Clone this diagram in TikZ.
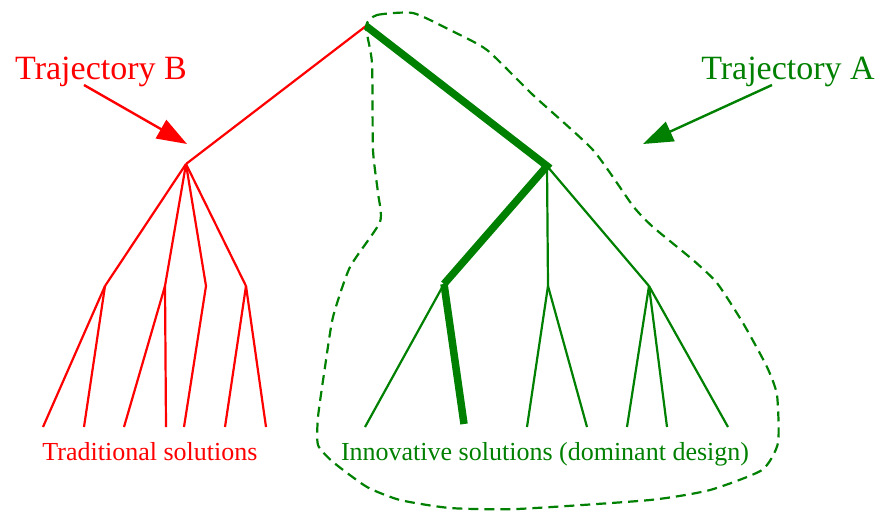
\documentclass[tikz,border=0pt]{standalone}
\usepackage{fontspec}
\setmainfont{Liberation Serif}
\usetikzlibrary{arrows.meta}

\definecolor{darkgreen}{RGB}{0,128,0}

\tikzstyle{redbranch}=[draw=red,line width=2.2pt]
\tikzstyle{greenbranch}=[draw=darkgreen,line width=2.2pt]
\tikzstyle{mainbranch}=[draw=darkgreen,line width=7.5pt]
\tikzstyle{pointer}=[line width=2.4pt,-{Triangle[length=30pt,width=21pt]}]
\tikzstyle{title}=[inner sep=0pt,anchor=base,font=\fontsize{34}{40}\selectfont]
\tikzstyle{caption}=[inner sep=0pt,anchor=base,font=\fontsize{26}{30}\selectfont]

\begin{document}
\begin{tikzpicture}[x=1pt,y=-1pt]

   \useasboundingbox (0,0) rectangle (880,512);

   % Tree junctions

   \coordinate (root) at (366,26);
   \coordinate (b) at (186,164);
   \coordinate (b1) at (105,286);
   \coordinate (b2) at (165,286);
   \coordinate (b3) at (206,286);
   \coordinate (b4) at (246,286);
   \coordinate (a) at (547,166);
   \coordinate (a1) at (444,284);
   \coordinate (a2) at (548,286);
   \coordinate (a3) at (649,286);

   % Leaves

   \coordinate (bl1) at (43,427);
   \coordinate (bl2) at (84,427);
   \coordinate (bl3) at (124,427);
   \coordinate (bl4) at (166,427);
   \coordinate (bl5) at (184,427);
   \coordinate (bl6) at (225,427);
   \coordinate (bl7) at (266,427);

   \coordinate (al1) at (365,427);
   \coordinate (al2) at (464,424);
   \coordinate (al3) at (527,427);
   \coordinate (al4) at (587,427);
   \coordinate (al5) at (627,427);
   \coordinate (al6) at (667,427);
   \coordinate (al7) at (728,427);

   % Trajectory B (red)

   \draw[redbranch] (root) -- (b);
   \draw[redbranch] (b) -- (b1);
   \draw[redbranch] (b) -- (b2);
   \draw[redbranch] (b) -- (b3);
   \draw[redbranch] (b) -- (b4);
   \draw[redbranch] (b1) -- (bl1);
   \draw[redbranch] (b1) -- (bl2);
   \draw[redbranch] (b2) -- (bl3);
   \draw[redbranch] (b2) -- (bl4);
   \draw[redbranch] (b3) -- (bl5);
   \draw[redbranch] (b4) -- (bl6);
   \draw[redbranch] (b4) -- (bl7);

   % Trajectory A (green)

   \draw[greenbranch] (a) -- (a2);
   \draw[greenbranch] (a) -- (a3);
   \draw[greenbranch] (a1) -- (al1);
   \draw[greenbranch] (a2) -- (al3);
   \draw[greenbranch] (a2) -- (al4);
   \draw[greenbranch] (a3) -- (al5);
   \draw[greenbranch] (a3) -- (al6);
   \draw[greenbranch] (a3) -- (al7);

   \draw[mainbranch] (root) -- (a) -- (a1);
   \draw[mainbranch] (a1) -- (al2);

   % Boundary of the dominant design

   \draw[darkgreen,line width=2.2pt,dash pattern=on 10pt off 6pt]
      plot[smooth cycle,tension=0.35] coordinates {
      (366,26) (377,15) (413,13) (450,30) (487,50) (533,95) (593,150)
      (633,206) (653,227) (693,260) (717,283) (743,323) (767,367)
      (777,395) (778,443) (762,470) (710,490) (650,500) (517,509)
      (450,508) (400,500) (367,487) (333,462) (318,445) (318,417)
      (325,367) (333,317) (350,267) (380,222) (378,193) (373,150)
      (372,63)};

   % Labels

   \node[title,text=red] (trajB) at (101,79) {Trajectory B};
   \node[title,text=darkgreen] (trajA) at (788,79) {Trajectory A};

   \node[caption,text=red] (trad) at (150,460) {Traditional solutions};
   \node[caption,text=darkgreen] (innov) at (545,460)
      {Innovative solutions (dominant design)};

   \coordinate (trajBtail) at (84,85);
   \coordinate (trajBtip) at (187,144);
   \coordinate (trajAtail) at (772,85);
   \coordinate (trajAtip) at (643,144);

   \draw[pointer,red] (trajBtail) -- (trajBtip);
   \draw[pointer,darkgreen] (trajAtail) -- (trajAtip);

\end{tikzpicture}
\end{document}
